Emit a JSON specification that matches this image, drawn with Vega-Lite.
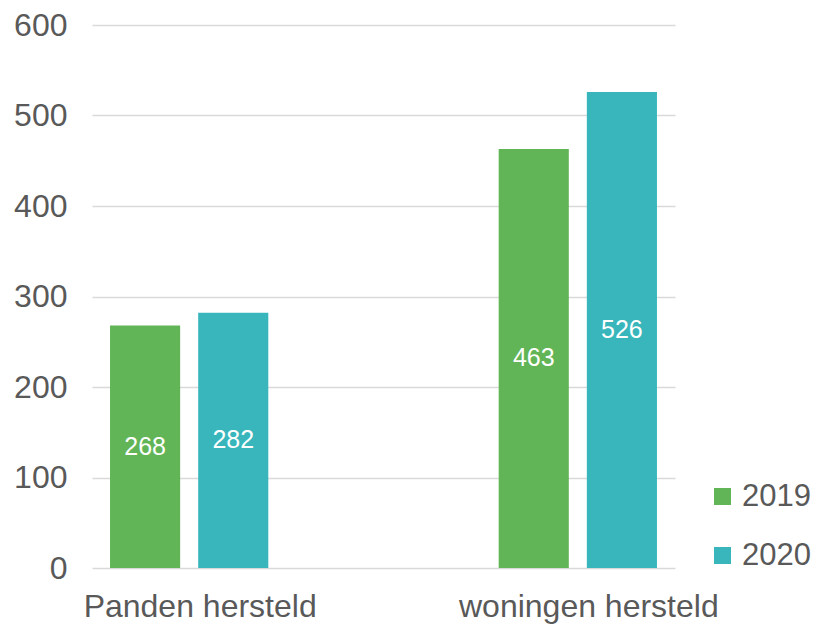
{
  "$schema": "https://vega.github.io/schema/vega-lite/v6.json",
  "width": 583,
  "height": 543,
  "autosize": {"type": "none"},
  "padding": {"left": 92, "top": 25, "right": 142, "bottom": 62},
  "background": "white",
  "config": {
    "font": "Liberation Sans",
    "view": {"stroke": null}
  },
  "data": {
    "values": [
      {"categorie": "Panden hersteld", "jaar": "2019", "aantal": 268},
      {"categorie": "Panden hersteld", "jaar": "2020", "aantal": 282},
      {"categorie": "woningen hersteld", "jaar": "2019", "aantal": 463},
      {"categorie": "woningen hersteld", "jaar": "2020", "aantal": 526}
    ]
  },
  "encoding": {
    "x": {
      "field": "categorie",
      "type": "nominal",
      "sort": null,
      "scale": {"paddingInner": 0.5, "paddingOuter": 0},
      "axis": {
        "title": null,
        "labelAngle": 0,
        "ticks": false,
        "domain": false,
        "labelFontSize": 32,
        "labelColor": "#595959",
        "labelPadding": 23,
        "labelOffset": 11,
        "labelLimit": 400
      }
    },
    "xOffset": {
      "field": "jaar",
      "type": "nominal",
      "scale": {"paddingInner": 0.2045, "paddingOuter": 0.2045}
    }
  },
  "layer": [
    {
      "mark": {"type": "bar"},
      "encoding": {
        "y": {
          "field": "aantal",
          "type": "quantitative",
          "scale": {"domain": [0, 600]},
          "axis": {
            "title": null,
            "values": [0, 100, 200, 300, 400, 500, 600],
            "ticks": false,
            "domain": false,
            "grid": true,
            "gridColor": "#d9d9d9",
            "gridWidth": 1.5,
            "labelFontSize": 32,
            "labelColor": "#595959",
            "labelPadding": 25
          }
        },
        "color": {
          "field": "jaar",
          "type": "nominal",
          "scale": {"domain": ["2019", "2020"], "range": ["#62b556", "#38b6bc"]},
          "legend": {
            "title": null,
            "orient": "none",
            "legendX": 615,
            "legendY": 456,
            "symbolType": "square",
            "symbolSize": 289,
            "symbolStrokeWidth": 0,
            "labelFontSize": 31,
            "labelColor": "#595959",
            "labelOffset": 4,
            "rowPadding": 27
          }
        }
      }
    },
    {
      "mark": {"type": "text", "color": "white", "fontSize": 25, "baseline": "middle"},
      "encoding": {
        "y": {
          "field": "aantal",
          "type": "quantitative",
          "scale": {"domain": [0, 1200]},
          "axis": null
        },
        "text": {"field": "aantal", "type": "quantitative"}
      }
    }
  ],
  "resolve": {"scale": {"y": "independent"}}
}
